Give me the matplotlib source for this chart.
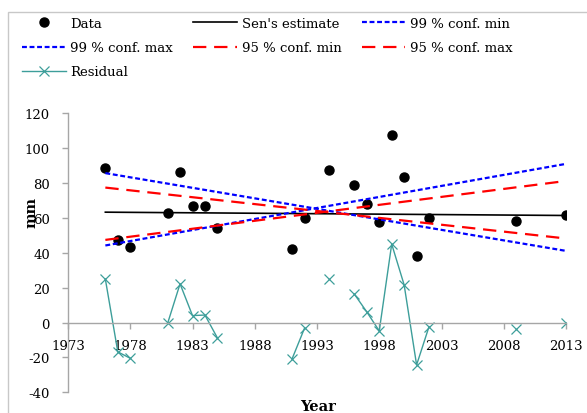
import numpy as np
import matplotlib
matplotlib.use("Agg")
import matplotlib.pyplot as plt
from matplotlib.patches import Rectangle

# Observed annual values (mm)
years = [1976, 1977, 1978, 1981, 1982, 1983, 1984, 1985, 1991, 1992,
         1994, 1996, 1997, 1998, 1999, 2000, 2001, 2002, 2009, 2013]
data_mm = [88.7, 47.2, 43.2, 62.9, 86.2, 66.7, 66.7, 54.5, 42.3, 60.0,
           87.2, 78.6, 68.1, 57.6, 107.6, 83.5, 38.1, 60.0, 58.1, 61.4]
residual_mm = [24.9, -16.8, -20.5, -0.5, 22.2, 4.0, 4.3, -8.8, -20.8, -3.2,
               25.2, 16.3, 6.1, -4.8, 45.0, 21.6, -24.3, -2.3, -3.8, 0.0]

# Trend lines (first and last year)
trend_years = [1976, 2013]
sen_est = [63.3, 61.4]
conf99_min = [85.7, 41.1]
conf99_max = [44.2, 91.0]
conf95_min = [77.4, 48.2]
conf95_max = [47.4, 81.2]

plt.rcParams['font.family'] = 'DejaVu Serif'
plt.rcParams['font.size'] = 9.5
plt.rcParams['axes.unicode_minus'] = False

W, H = 587, 414
fig = plt.figure(figsize=(W / 100, H / 100), dpi=100)
ax = fig.add_axes([68 / W, 1 - 393.3 / H, 498 / W, 279 / H])

# residual line broken where years are missing
yr = np.array(years, dtype=float)
res = np.array(residual_mm, dtype=float)
gap = np.where(np.diff(yr) > 1)[0] + 1
res_x = np.insert(yr, gap, np.nan)
res_y = np.insert(res, gap, np.nan)

teal = '#3d9e9a'
h_data, = ax.plot(years, data_mm, 'o', color='black', markersize=6.5, label='Data')
h_sen, = ax.plot(trend_years, sen_est, '-', color='black', lw=1.2, label="Sen's estimate")
h_99min, = ax.plot(trend_years, conf99_min, color='#0000ff', lw=1.6,
                   dashes=(2.2, 1.2), label='99 % conf. min')
h_99max, = ax.plot(trend_years, conf99_max, color='#0000ff', lw=1.6,
                   dashes=(2.2, 1.2), label='99 % conf. max')
h_95min, = ax.plot(trend_years, conf95_min, color='#ff0000', lw=1.6,
                   dashes=(6, 3.5), label='95 % conf. min')
h_95max, = ax.plot(trend_years, conf95_max, color='#ff0000', lw=1.6,
                   dashes=(6, 3.5), label='95 % conf. max')
ax.plot(res_x, res_y, '-', color=teal, lw=1.0)
ax.plot(years, residual_mm, 'x', color=teal, markersize=7, markeredgewidth=0.9)
h_res, = ax.plot([], [], '-x', color=teal, lw=1.0, markersize=7,
                 markeredgewidth=0.9, label='Residual')

ax.set_xlim(1973, 2013)
ax.set_ylim(-40, 120)
ax.set_xticks(range(1973, 2014, 5))
ax.set_yticks(range(-40, 121, 20))

for s in ['top', 'right']:
    ax.spines[s].set_visible(False)
ax.spines['bottom'].set_position(('data', 0))
for s in ['left', 'bottom']:
    ax.spines[s].set_color('#a6a6a6')
    ax.spines[s].set_linewidth(1.0)
ax.tick_params(axis='both', direction='out', length=4, width=1.0,
               color='#a6a6a6', labelcolor='black')
ax.tick_params(axis='x', pad=8)
ax.tick_params(axis='y', pad=9)
ax.patch.set_alpha(0)

fig.text(31 / W, 1 - 212 / H, 'mm', rotation=90, ha='center', va='center',
         fontweight='bold', fontsize=10.5)
fig.text(318 / W, 1 - 400 / H, 'Year', ha='center', va='top',
         fontweight='bold', fontsize=10.5)

# legend filled row by row like the original
handles = [h_data, h_99max, h_res, h_sen, h_95min, h_99min, h_95max]
fig.legend(handles=handles, labels=[h.get_label() for h in handles],
           ncol=3, loc='upper left', bbox_to_anchor=(22 / W, 1 - 18 / H),
           frameon=False, borderpad=0, handlelength=3.3, handletextpad=0.35,
           columnspacing=1.55, labelspacing=0.85, borderaxespad=0)

# chart area border
fig.patches.append(Rectangle((8 / W, -0.1), 1.2, 1 - 13 / H + 0.1,
                             transform=fig.transFigure, fill=False,
                             edgecolor='#c8c8c8', lw=1.0))

fig.savefig('out.png', dpi=100)
